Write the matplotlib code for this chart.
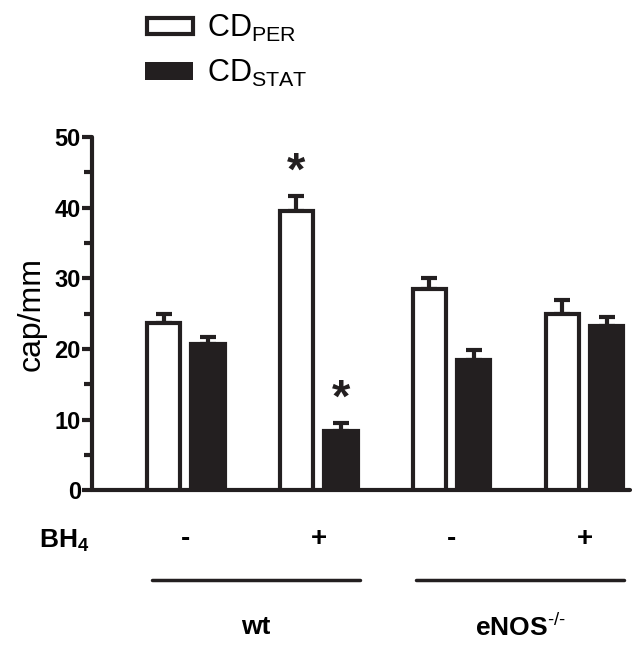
import numpy as np
import matplotlib.pyplot as plt
from matplotlib.patches import Rectangle
from matplotlib.transforms import blended_transform_factory

plt.rcParams['font.family'] = 'Liberation Sans'
plt.rcParams['mathtext.fontset'] = 'custom'
plt.rcParams['mathtext.rm'] = 'Liberation Sans'
plt.rcParams['mathtext.bf'] = 'Liberation Sans:bold'

# data
bh4_labels = ['-', '+', '-', '+']
genotypes = ['wt', r'eNOS$^{\text{-/-}}$']
series_names = [r'CD$_{\mathrm{PER}}$', r'CD$_{\mathrm{STAT}}$']
cd_per = [23.7, 39.5, 28.5, 24.9]
cd_per_err = [1.2, 2.2, 1.6, 2.1]
cd_stat = [20.7, 8.4, 18.4, 23.3]
cd_stat_err = [1.0, 1.1, 1.4, 1.2]
per_sig = [False, True, False, False]
stat_sig = [False, True, False, False]

dark = '#231f20'
fig = plt.figure(figsize=(6.42, 6.5), dpi=100)
ax = fig.add_axes([0.1433, 0.246, 0.8377, 0.543])

x = np.arange(len(cd_per))
off = 0.167
w = 0.25

ax.bar(x - off, cd_per, w, color='white', edgecolor=dark, linewidth=3, zorder=3)
ax.bar(x + off, cd_stat, w, color=dark, edgecolor=dark, linewidth=3, zorder=3)
for xs, vals, errs in [(x - off, cd_per, cd_per_err), (x + off, cd_stat, cd_stat_err)]:
    ax.errorbar(xs, vals, yerr=[np.zeros(len(errs)), errs], fmt='none',
                ecolor=dark, elinewidth=3, capsize=6, capthick=3, zorder=2)

for xs, vals, errs, sig in [(x - off, cd_per, cd_per_err, per_sig),
                            (x + off, cd_stat, cd_stat_err, stat_sig)]:
    for xi, v, e, s in zip(xs, vals, errs, sig):
        if s:
            ax.annotate('*', (xi, v + e), xytext=(0, 1), textcoords='offset points',
                        ha='center', va='bottom', fontsize=34, fontweight='bold', color=dark)

ax.set_xlim(-0.705, 3.34)
ax.set_ylim(0, 50)
ax.set_yticks([0, 10, 20, 30, 40, 50])
ax.set_yticks([5, 15, 25, 35, 45], minor=True)
ax.set_xticks([])
for s in ['top', 'right']:
    ax.spines[s].set_visible(False)
for s in ['left', 'bottom']:
    ax.spines[s].set_linewidth(3)
    ax.spines[s].set_color(dark)
    ax.spines[s].set_capstyle('round')
ax.tick_params(axis='y', which='major', length=7, width=3, color=dark, labelsize=17, pad=1)
ax.tick_params(axis='y', which='minor', length=6, width=3, color=dark)
for lbl in ax.get_yticklabels():
    lbl.set_fontweight('bold')
ax.set_ylabel('cap/mm', fontsize=23, labelpad=6)

# annotation row below the axis
tr = blended_transform_factory(ax.transData, fig.transFigure)
fig.text(0.06, 0.168, r'BH$_{\mathbf{4}}$', fontsize=19, fontweight='bold', ha='left', va='center')
for xi, lab in zip(x, bh4_labels):
    ax.text(xi, 0.17, lab, transform=tr, ha='center', va='center', fontsize=20, fontweight='bold')
for (x0, x1), g in zip([(-0.25, 1.31), (1.73, 3.30)], genotypes):
    ax.plot([x0, x1], [0.107, 0.107], transform=tr, color=dark, lw=2.5, clip_on=False,
            solid_capstyle='round')
    ax.text((x0 + x1) / 2, 0.036, g, transform=tr, ha='center', va='center',
            fontsize=19, fontweight='bold')

# legend
fig.add_artist(Rectangle((0.229, 0.947), 0.071, 0.025, transform=fig.transFigure,
                         facecolor='white', edgecolor=dark, linewidth=3))
fig.add_artist(Rectangle((0.226, 0.877), 0.075, 0.027, transform=fig.transFigure,
                         facecolor=dark, edgecolor=dark, linewidth=0))
fig.text(0.322, 0.957, series_names[0], fontsize=22, va='center', ha='left')
fig.text(0.322, 0.887, series_names[1], fontsize=22, va='center', ha='left')

fig.savefig('out.png', dpi=100)
